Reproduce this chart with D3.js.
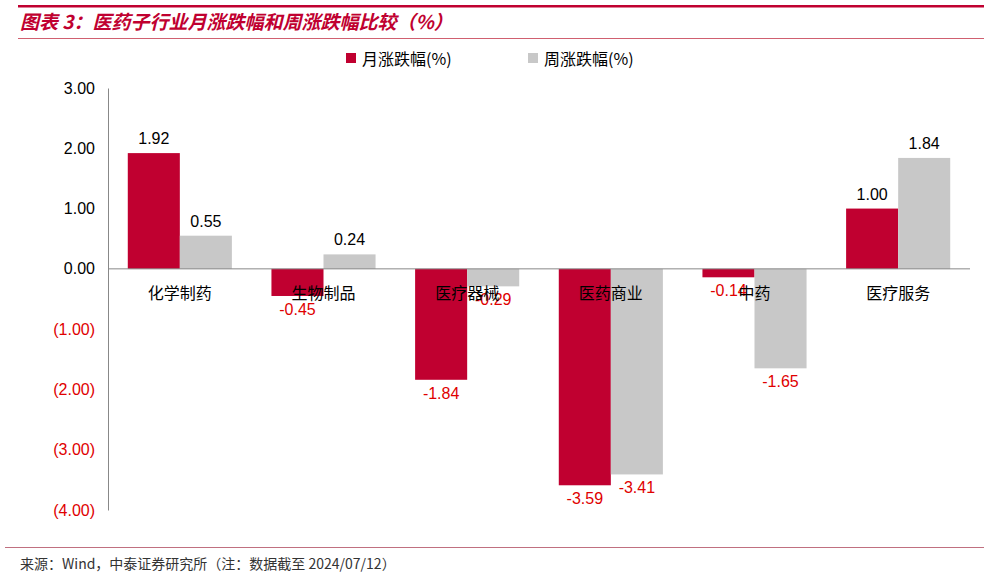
<!DOCTYPE html><html><head><meta charset="utf-8"><script src="https://cdn.jsdelivr.net/npm/d3@7"></script>
<style>body{margin:0;background:#fff}</style></head><body><svg id="c" width="989" height="576"></svg>
<script>
const categories=["化学制药","生物制品","医疗器械","医药商业","中药","医疗服务"];
const monthly=[1.92,-0.45,-1.84,-3.59,-0.14,1.00];
const weekly=[0.55,0.24,-0.29,-3.41,-1.65,1.84];
const yTicks=[3,2,1,0,-1,-2,-3,-4];
const seriesNames=["月涨跌幅(%)","周涨跌幅(%)"];
const colors=["#c00030","#c8c8c8"];
const svg=d3.select("#c");
const F="'Noto Sans CJK SC',sans-serif";
svg.append("rect").attr("x",18).attr("y",5).attr("width",966).attr("height",2.5).attr("fill","#c00030");
svg.append("line").attr("x1",18).attr("x2",984).attr("y1",38.5).attr("y2",38.5).attr("stroke","#d06070").attr("stroke-width",1);
svg.append("text").attr("x",20).attr("y",29).attr("font-family",F).attr("font-size",19).attr("font-weight","bold").attr("font-style","italic").attr("fill","#c00030").text("图表 3：医药子行业月涨跌幅和周涨跌幅比较（%）");
const y=d3.scaleLinear().domain([-4,3]).range([510,88]);
const x=d3.scaleBand().domain(categories).range([108,970]);
const xs=d3.scaleBand().domain([0,1]).range([0,x.bandwidth()]).paddingOuter(0.38).paddingInner(0);
const yAx=svg.append("g").attr("transform","translate(108,0)").call(d3.axisLeft(y).tickValues(yTicks).tickSize(0).tickPadding(13).tickFormat(v=>v<0?"("+Math.abs(v).toFixed(2)+")":v.toFixed(2)));
yAx.select(".domain").attr("stroke","#888");
yAx.selectAll("text").attr("font-family","'Liberation Sans',Arial").attr("font-size",16).attr("fill",d=>d<0?"#e00000":"#000");
[monthly,weekly].forEach((arr,s)=>{
 svg.append("g").selectAll("rect").data(arr).join("rect")
  .attr("x",(d,i)=>x(categories[i])+xs(s)).attr("width",xs.bandwidth())
  .attr("y",d=>y(Math.max(0,d))).attr("height",d=>Math.abs(y(d)-y(0))).attr("fill",colors[s]);
 svg.append("g").selectAll("text").data(arr).join("text")
  .attr("x",(d,i)=>x(categories[i])+xs(s)+xs.bandwidth()/2).attr("y",d=>d>=0?y(d)-9:y(d)+19)
  .attr("text-anchor","middle").attr("font-family","'Liberation Sans',Arial").attr("font-size",16)
  .attr("fill",d=>d<0?"#e00000":"#000").text(d=>d.toFixed(2));
});
svg.append("line").attr("x1",108).attr("x2",970).attr("y1",y(0)).attr("y2",y(0)).attr("stroke","#888");
svg.append("g").selectAll("text").data(categories).join("text").attr("x",d=>x(d)+x.bandwidth()/2).attr("y",y(0)+30)
 .attr("text-anchor","middle").attr("font-family",F).attr("font-size",16).text(d=>d);
const lg=svg.append("g");
seriesNames.forEach((n,i)=>{const lx=346+i*182;
 lg.append("rect").attr("x",lx).attr("y",53).attr("width",10).attr("height",10).attr("fill",colors[i]);
 lg.append("text").attr("x",lx+16).attr("y",65).attr("font-family",F).attr("font-size",16).text(n);});
svg.append("line").attr("x1",5).attr("x2",984).attr("y1",547.5).attr("y2",547.5).attr("stroke","#c07080");
svg.append("text").attr("x",20).attr("y",569).attr("font-family",F).attr("font-size",14).attr("fill","#333").text("来源：Wind，中泰证券研究所（注：数据截至 2024/07/12）");
</script></body></html>
